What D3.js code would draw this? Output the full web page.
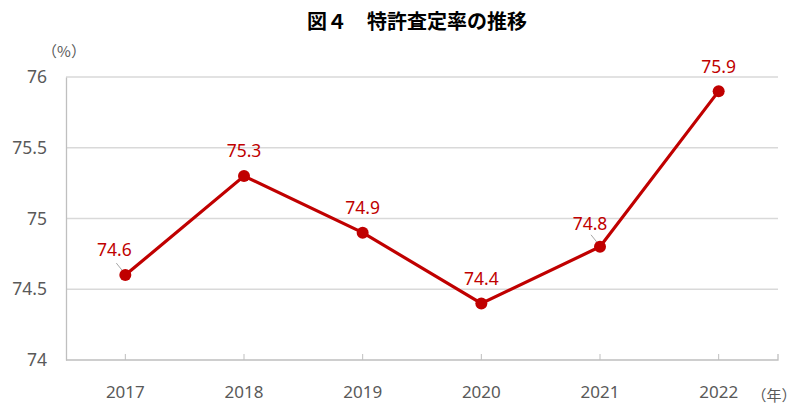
<!DOCTYPE html>
<html>
<head>
<meta charset="utf-8">
<script src="https://cdn.jsdelivr.net/npm/d3@7"></script>
<style>
  body { margin: 0; background: #fff; }
  text { font-family: "Noto Sans CJK JP", "Noto Sans", sans-serif; }
</style>
</head>
<body>
<div id="chart"></div>
<script>
// data
var years = ["2017", "2018", "2019", "2020", "2021", "2022"];
var rates = [74.6, 75.3, 74.9, 74.4, 74.8, 75.9];
var yTicks = [74, 74.5, 75, 75.5, 76];

var margin = {top: 77, right: 22, bottom: 50, left: 66},
    width = 800 - margin.left - margin.right,
    height = 410 - margin.top - margin.bottom;

var svg = d3.select("#chart")
    .append("svg")
    .attr("width", 800)
    .attr("height", 410);

var g = svg.append("g")
    .attr("transform", "translate(" + margin.left + "," + margin.top + ")");

var x = d3.scaleBand()
    .domain(years)
    .range([0, width]);

var y = d3.scaleLinear()
    .domain([74, 76])
    .range([height, 0]);

// grid lines
g.append("g")
    .selectAll("line")
    .data(yTicks.slice(1))
    .enter()
    .append("line")
    .attr("x1", 0)
    .attr("x2", width)
    .attr("y1", function(d) { return y(d); })
    .attr("y2", function(d) { return y(d); })
    .attr("stroke", "#d9d9d9")
    .attr("stroke-width", 1.3);

// y axis
var yAxis = g.append("g")
    .call(d3.axisLeft(y).tickValues(yTicks).tickSize(0).tickPadding(19)
        .tickFormat(function(d) { return d; }));
yAxis.select(".domain").attr("stroke", "#bfbfbf").attr("stroke-width", 1.3);
yAxis.selectAll("text")
    .attr("fill", "#595959")
    .style("font-size", "17.5px")
    .style("font-family", "'Noto Sans', sans-serif");

// x axis
var xAxis = g.append("g")
    .attr("transform", "translate(0," + height + ")")
    .call(d3.axisBottom(x).tickSize(6).tickSizeOuter(6).tickPadding(20));
xAxis.select(".domain").attr("stroke", "#bfbfbf").attr("stroke-width", 1.3)
    .attr("d", "M0,0H" + width + "V-6");
xAxis.selectAll(".tick line")
    .attr("stroke", "#bfbfbf")
    .attr("y1", 0)
    .attr("y2", -6);
xAxis.selectAll("text")
    .attr("fill", "#595959")
    .style("font-size", "17px")
    .style("font-family", "'Noto Sans', sans-serif");

var cx = function(d, i) { return x(years[i]) + x.bandwidth() / 2; };

// line
g.append("path")
    .datum(rates)
    .attr("fill", "none")
    .attr("stroke", "#c00000")
    .attr("stroke-width", 3.2)
    .attr("d", d3.line()
        .x(cx)
        .y(function(d) { return y(d); }));

// leader lines for 74.6 and 74.8
var leaders = [0, 4];
g.append("g")
    .selectAll("line")
    .data(leaders)
    .enter()
    .append("line")
    .attr("x1", function(i) { return cx(rates[i], i) - 9; })
    .attr("y1", function(i) { return y(rates[i]) - 12; })
    .attr("x2", function(i) { return cx(rates[i], i) - 1; })
    .attr("y2", function(i) { return y(rates[i]) - 2; })
    .attr("stroke", "#a6a6a6")
    .attr("stroke-width", 1);

// points
g.append("g")
    .selectAll("circle")
    .data(rates)
    .enter()
    .append("circle")
    .attr("cx", cx)
    .attr("cy", function(d) { return y(d); })
    .attr("r", 6)
    .attr("fill", "#c00000");

// value labels
var labelDx = [-11, 0, 0, 0, -10, 0];
var labelDy = [-19, -19, -19, -18, -17, -18];
g.append("g")
    .selectAll("text")
    .data(rates)
    .enter()
    .append("text")
    .attr("x", function(d, i) { return cx(d, i) + labelDx[i]; })
    .attr("y", function(d, i) { return y(d) + labelDy[i]; })
    .attr("text-anchor", "middle")
    .attr("fill", "#c00000")
    .style("font-size", "17.5px")
    .style("font-family", "'Noto Sans', sans-serif")
    .text(function(d) { return d; });

// title
svg.append("text")
    .attr("x", 417)
    .attr("y", 29)
    .attr("text-anchor", "middle")
    .style("font-size", "20px")
    .style("font-weight", "bold")
    .attr("fill", "#000")
    .text("図４　特許査定率の推移");

// unit labels
svg.append("text")
    .attr("x", 64)
    .attr("y", 57)
    .attr("text-anchor", "middle")
    .attr("fill", "#595959")
    .style("font-size", "15px")
    .text("（%）");

svg.append("text")
    .attr("x", 774)
    .attr("y", 401)
    .attr("text-anchor", "middle")
    .attr("fill", "#595959")
    .style("font-size", "15px")
    .text("（年）");
</script>
</body>
</html>
